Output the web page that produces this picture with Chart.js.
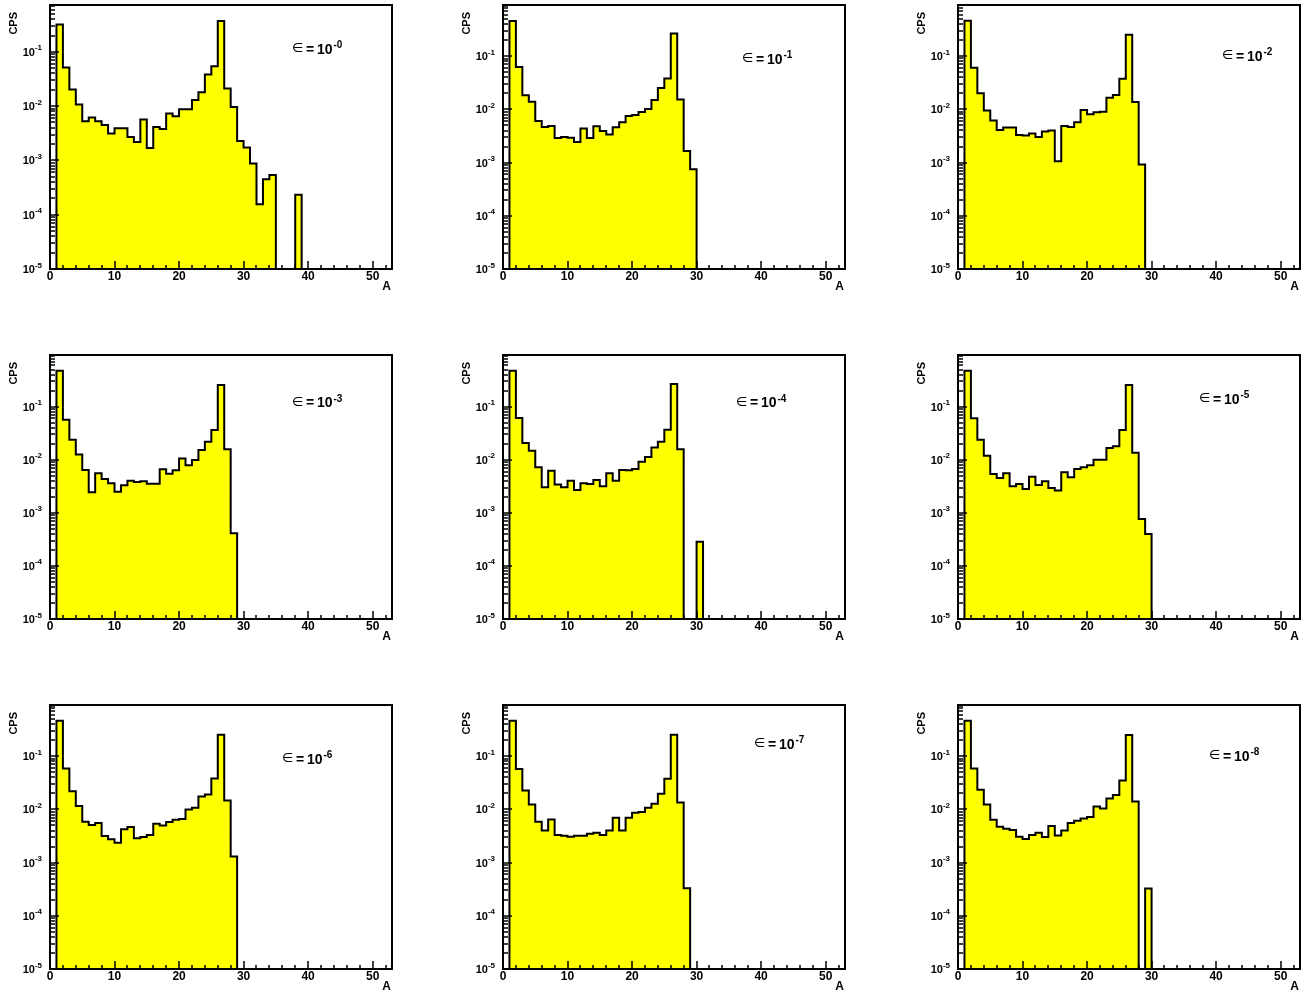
<!DOCTYPE html>
<html>
<head>
<meta charset="utf-8">
<script src="https://cdn.jsdelivr.net/npm/chart.js@4.4.0/dist/chart.umd.min.js"></script>
<style>
  body { margin: 0; background: #fff; width: 1309px; height: 994px; overflow: hidden; position: relative; }
  canvas { position: absolute; }
</style>
</head>
<body>
<script>
// histogram binning: bins of width 1 starting at A = 1
const firstBin = 1;
const xTickLabels = [0, 10, 20, 30, 40, 50];
const yDecades = [-5, -4, -3, -2, -1];
const yMin = 1e-5;

// epsilon exponent shown in each panel
const epsExponents = ['-0', '-1', '-2', '-3', '-4', '-5', '-6', '-7', '-8'];

// CPS per bin (A = 1, 2, 3 ...), 0 = empty bin
const cpsEps0 = [0.32, 0.0514, 0.0202, 0.0107, 0.00527, 0.00617, 0.00527, 0.00451, 0.00313, 0.00392,
  0.00392, 0.00271, 0.00219, 0.00566, 0.0017, 0.00415, 0.00381, 0.0073, 0.00652, 0.00877,
  0.00877, 0.013, 0.0181, 0.0382, 0.0544, 0.372, 0.0211, 0.00969, 0.00229, 0.00173,
  0.000875, 0.000156, 0.00045, 0.000541, 0, 0, 0, 0.000234];
const cpsEps1 = [0.462, 0.063, 0.01845, 0.014, 0.00608, 0.00469, 0.0049, 0.00291, 0.00304, 0.00295,
  0.00245, 0.00436, 0.00291, 0.00482, 0.00394, 0.00337, 0.00462, 0.00574, 0.00755, 0.00789,
  0.00898, 0.0102, 0.0151, 0.0254, 0.038, 0.267, 0.0153, 0.00166, 0.00075];
const cpsEps2 = [0.46, 0.0604, 0.02, 0.00944, 0.00613, 0.0041, 0.00453, 0.00453, 0.0033, 0.00321,
  0.0035, 0.00303, 0.00381, 0.00398, 0.00106, 0.00487, 0.00466, 0.0057, 0.00972, 0.00806,
  0.00879, 0.00904, 0.01655, 0.01857, 0.0376, 0.251, 0.01373, 0.000917];
const cpsEps3 = [0.476, 0.0569, 0.0239, 0.0125, 0.00641, 0.00243, 0.00555, 0.00434, 0.00359, 0.0025,
  0.0033, 0.00403, 0.00381, 0.00392, 0.00354, 0.00354, 0.00659, 0.00547, 0.00632, 0.0105,
  0.00785, 0.00989, 0.0153, 0.0219, 0.0363, 0.256, 0.0157, 0.000411];
const cpsEps4 = [0.476, 0.0611, 0.0207, 0.0148, 0.0072, 0.00302, 0.00622, 0.0034, 0.00302, 0.00403,
  0.00269, 0.00359, 0.00349, 0.00415, 0.00316, 0.00555, 0.00403, 0.00641, 0.00632, 0.0067,
  0.0092, 0.0113, 0.0171, 0.0219, 0.0369, 0.267, 0.0157, 0, 0, 0.000286];
const cpsEps5 = [0.476, 0.0603, 0.0239, 0.0119, 0.0054, 0.00453, 0.00555, 0.00316, 0.00349, 0.00281,
  0.0048, 0.00334, 0.00392, 0.00294, 0.00262, 0.00579, 0.00466, 0.0067, 0.0072, 0.00785,
  0.01004, 0.01004, 0.0166, 0.0179, 0.0363, 0.256, 0.0136, 0.000766, 0.000399];
const cpsEps6 = [0.467, 0.0587, 0.0221, 0.01155, 0.00587, 0.00508, 0.00554, 0.00316, 0.00274, 0.00237,
  0.00422, 0.00467, 0.00286, 0.00303, 0.0033, 0.00538, 0.00501, 0.00579, 0.0064, 0.00659,
  0.01, 0.01075, 0.01754, 0.0191, 0.0381, 0.255, 0.01475, 0.0013];
const cpsEps7 = [0.467, 0.0579, 0.0227, 0.0124, 0.00587, 0.00404, 0.00649, 0.0033, 0.00321, 0.00307,
  0.00321, 0.00321, 0.0035, 0.00365, 0.0033, 0.00404, 0.00698, 0.00404, 0.00698, 0.00866,
  0.00891, 0.01075, 0.01277, 0.01967, 0.0376, 0.255, 0.01352, 0.00033];
const cpsEps8 = [0.467, 0.0587, 0.0234, 0.0124, 0.0064, 0.00473, 0.00434, 0.0041, 0.00307, 0.00278,
  0.0033, 0.00365, 0.00303, 0.00487, 0.00325, 0.00404, 0.00554, 0.00613, 0.00678, 0.00718,
  0.01138, 0.01044, 0.01607, 0.0186, 0.035, 0.251, 0.01413, 0, 0.000325];

const allCps = [cpsEps0, cpsEps1, cpsEps2, cpsEps3, cpsEps4, cpsEps5, cpsEps6, cpsEps7, cpsEps8];

// axis tops as drawn in each pad
const yMaxes = [0.73, 0.92, 0.91, 0.94, 0.94, 0.94, 0.92, 0.92, 0.92];

// ---- layout (pixels) ----
const colLeft = [0, 453, 908];
const rowTop = [0, 350, 700];
const padW = 400, padH = 292;
// where the epsilon label sits, relative to the frame corner
const epsPos = [[243, 44], [240, 54], [265, 51], [243, 47.5], [234, 47.5], [242, 44], [233, 54], [252, 39], [252, 51]];

const boldFont = (px) => 'bold ' + px + 'px "Liberation Sans", Arial, Helvetica, sans-serif';

function histPoints(counts) {
    // stepped outline: start on the axis, one point per bin low edge, close on the axis.
    // a log axis cannot show 0, so empty bins sit on the axis floor like ROOT draws them
    let pts = [{ x: firstBin, y: yMin }];
    counts.forEach((c, i) => pts.push({ x: firstBin + i, y: Math.max(c, yMin) }));
    pts.push({ x: firstBin + counts.length, y: yMin });
    return pts;
}

// ROOT-like frame, ticks and labels
const rootPad = {
    id: 'rootPad',
    afterDatasetsDraw(chart, args, opts) {
        let ctx = chart.ctx;
        let ca = chart.chartArea;
        let x = chart.scales.x, y = chart.scales.y;
        ctx.save();
        ctx.strokeStyle = '#000';
        ctx.fillStyle = '#000';

        // x ticks every 2, long every 10
        ctx.lineWidth = 1.5;
        for (let v = 0; v <= x.max; v += 2) {
            let px = Math.round(x.getPixelForValue(v));
            let len = v % 10 === 0 ? 8 : 4;
            ctx.beginPath();
            ctx.moveTo(px, ca.bottom);
            ctx.lineTo(px, ca.bottom - len);
            ctx.stroke();
        }
        // y ticks 1..9 per decade
        for (let d of yDecades.concat([0])) {
            for (let m = 1; m <= 9; m++) {
                let v = m * Math.pow(10, d);
                if (v < y.min || v > y.max) continue;
                let py = Math.round(y.getPixelForValue(v));
                let len = m === 1 ? 9 : 5;
                ctx.beginPath();
                ctx.moveTo(ca.left, py);
                ctx.lineTo(ca.left + len, py);
                ctx.stroke();
            }
        }

        // frame
        ctx.lineWidth = 2;
        ctx.strokeRect(ca.left, ca.top, ca.right - ca.left, ca.bottom - ca.top);

        // x labels
        ctx.font = boldFont(12);
        ctx.textAlign = 'center';
        ctx.textBaseline = 'middle';
        for (let v of xTickLabels) {
            ctx.fillText(String(v), x.getPixelForValue(v), ca.bottom + 8);
        }
        // y labels 10^n
        ctx.textBaseline = 'alphabetic';
        ctx.textAlign = 'right';
        for (let d of yDecades) {
            let py = y.getPixelForValue(Math.pow(10, d));
            let right = ca.left - 8;
            ctx.font = boldFont(8);
            let ew = ctx.measureText(String(d)).width;
            ctx.fillText(String(d), right, py - 1.5);
            ctx.font = boldFont(11);
            ctx.fillText('10', right - ew, py + 4);
        }

        // axis titles
        ctx.font = boldFont(12);
        ctx.textAlign = 'right';
        ctx.textBaseline = 'middle';
        ctx.fillText('A', ca.right - 1, ca.bottom + 18);
        ctx.save();
        ctx.translate(ca.left - 36.5, ca.top + 7);
        ctx.rotate(-Math.PI / 2);
        ctx.font = boldFont(11);
        ctx.fillText('CPS', 0, 0);
        ctx.restore();

        // epsilon label
        let ex = ca.left + opts.pos[0];
        let ey = ca.top + opts.pos[1];
        ctx.textAlign = 'left';
        ctx.textBaseline = 'middle';
        ctx.font = '13px "DejaVu Sans", sans-serif';
        ctx.fillText('\u2208', ex - 1, ey);
        ctx.textBaseline = 'alphabetic';
        ctx.font = boldFont(14);
        ctx.fillText('=', ex + 13, ey + 4.5);
        ctx.fillText('10', ex + 24, ey + 4.5);
        ctx.font = boldFont(10);
        ctx.fillText(opts.exp, ex + 40.5, ey - 1);

        ctx.restore();
    }
};

function makePanel(i) {
    let canvas = document.createElement('canvas');
    canvas.width = padW;
    canvas.height = padH;
    canvas.style.left = colLeft[i % 3] + 'px';
    canvas.style.top = rowTop[Math.floor(i / 3)] + 'px';
    document.body.appendChild(canvas);

    new Chart(canvas.getContext('2d'), {
        type: 'line',
        data: {
            datasets: [{
                data: histPoints(allCps[i]),
                stepped: true,
                fill: 'start',
                backgroundColor: '#ffff00',
                borderColor: '#000',
                borderWidth: 2,
                pointRadius: 0,
                tension: 0
            }]
        },
        options: {
            responsive: false,
            animation: false,
            devicePixelRatio: 1,
            layout: { padding: { left: 50, top: 5, right: padW - 392, bottom: padH - 269 } },
            scales: {
                x: { type: 'linear', min: 0, max: 53, display: false },
                y: { type: 'logarithmic', min: yMin, max: yMaxes[i], display: false }
            },
            plugins: {
                legend: { display: false },
                tooltip: { enabled: false },
                rootPad: { exp: epsExponents[i], pos: epsPos[i] }
            }
        },
        plugins: [rootPad]
    });
}

window.addEventListener('load', function() {
    for (let i = 0; i < 9; i++) makePanel(i);
});
</script>
</body>
</html>
